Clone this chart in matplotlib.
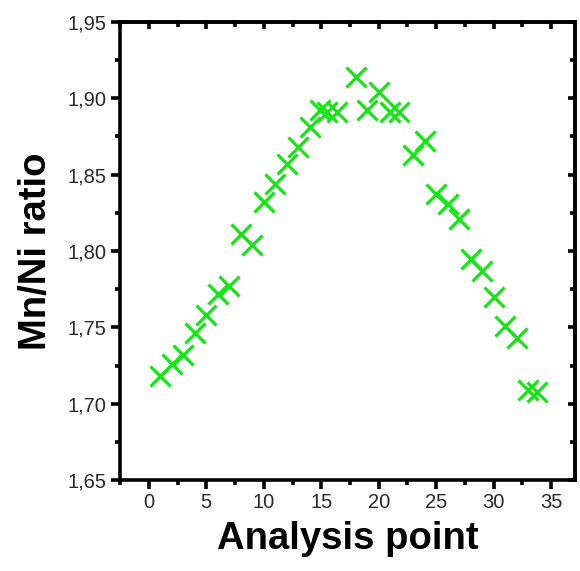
"""
Mn/Ni ratio along the analysis line (scatter with x markers).
"""
import matplotlib
matplotlib.use("Agg")
import matplotlib.pyplot as plt
from matplotlib.ticker import MultipleLocator, FuncFormatter, NullFormatter

plt.rcParams["font.family"] = ["Liberation Sans", "DejaVu Sans"]

# analysis point index
points = [1, 2, 3, 4, 5, 6, 7, 8, 9, 10, 11, 12, 13, 14,
          14.9, 15.5, 16.4, 18, 19, 20, 21, 21.8,
          23, 24, 25, 26, 27, 28, 29, 30, 31, 32, 33, 33.8]
mn_ni = [1.718, 1.726, 1.732, 1.746, 1.758, 1.772, 1.777, 1.811, 1.804, 1.832,
         1.844, 1.857, 1.868, 1.881,
         1.892, 1.891, 1.891, 1.914, 1.892, 1.904, 1.891, 1.891,
         1.863, 1.872, 1.837, 1.831, 1.821, 1.795, 1.787, 1.770, 1.751, 1.743,
         1.709, 1.708]

GREEN = "#14e614"
LW = 2.6


def comma(v, pos):
    return f"{v:.2f}".replace(".", ",")


def plot_ratio():
    fig = plt.figure(figsize=(5.8, 5.71), dpi=100)
    ax = fig.add_axes([0.207, 0.159, 0.785, 0.803])

    ax.plot(points, mn_ni, linestyle="none", marker="x", markersize=14.5,
            markeredgewidth=2.3, color=GREEN)

    ax.set_xlim(-2.5, 37.1)
    ax.set_ylim(1.65, 1.95)

    ax.xaxis.set_major_locator(MultipleLocator(5))
    ax.xaxis.set_minor_locator(MultipleLocator(2.5))
    ax.yaxis.set_major_locator(MultipleLocator(0.05))
    ax.yaxis.set_minor_locator(MultipleLocator(0.025))
    ax.yaxis.set_major_formatter(FuncFormatter(comma))

    for sp in ax.spines.values():
        sp.set_linewidth(LW)
    ax.tick_params(which="major", direction="out", length=6.5, width=LW,
                   labelsize=14.5, labelcolor="#2a2a2a", pad=3)
    ax.tick_params(which="minor", direction="out", length=3.5, width=LW)

    # mirrored inward ticks on top and right
    top = ax.secondary_xaxis("top")
    top.xaxis.set_major_locator(MultipleLocator(5))
    top.xaxis.set_minor_locator(MultipleLocator(2.5))
    top.xaxis.set_major_formatter(NullFormatter())
    top.tick_params(which="major", direction="in", length=5, width=LW)
    top.tick_params(which="minor", direction="in", length=3.5, width=LW)
    top.spines["top"].set_linewidth(LW)

    right = ax.secondary_yaxis("right")
    right.yaxis.set_major_locator(MultipleLocator(0.05))
    right.yaxis.set_minor_locator(MultipleLocator(0.025))
    right.yaxis.set_major_formatter(NullFormatter())
    right.tick_params(which="major", direction="in", length=5, width=LW)
    right.tick_params(which="minor", direction="in", length=3.5, width=LW)
    right.spines["right"].set_linewidth(LW)

    ax.set_xlabel("Analysis point", fontsize=27.5, fontweight="bold", labelpad=6)
    ax.set_ylabel("Mn/Ni ratio", fontsize=27.5, fontweight="bold", labelpad=10)

    fig.savefig("out.png", dpi=100)
    plt.close(fig)


if __name__ == "__main__":
    plot_ratio()
